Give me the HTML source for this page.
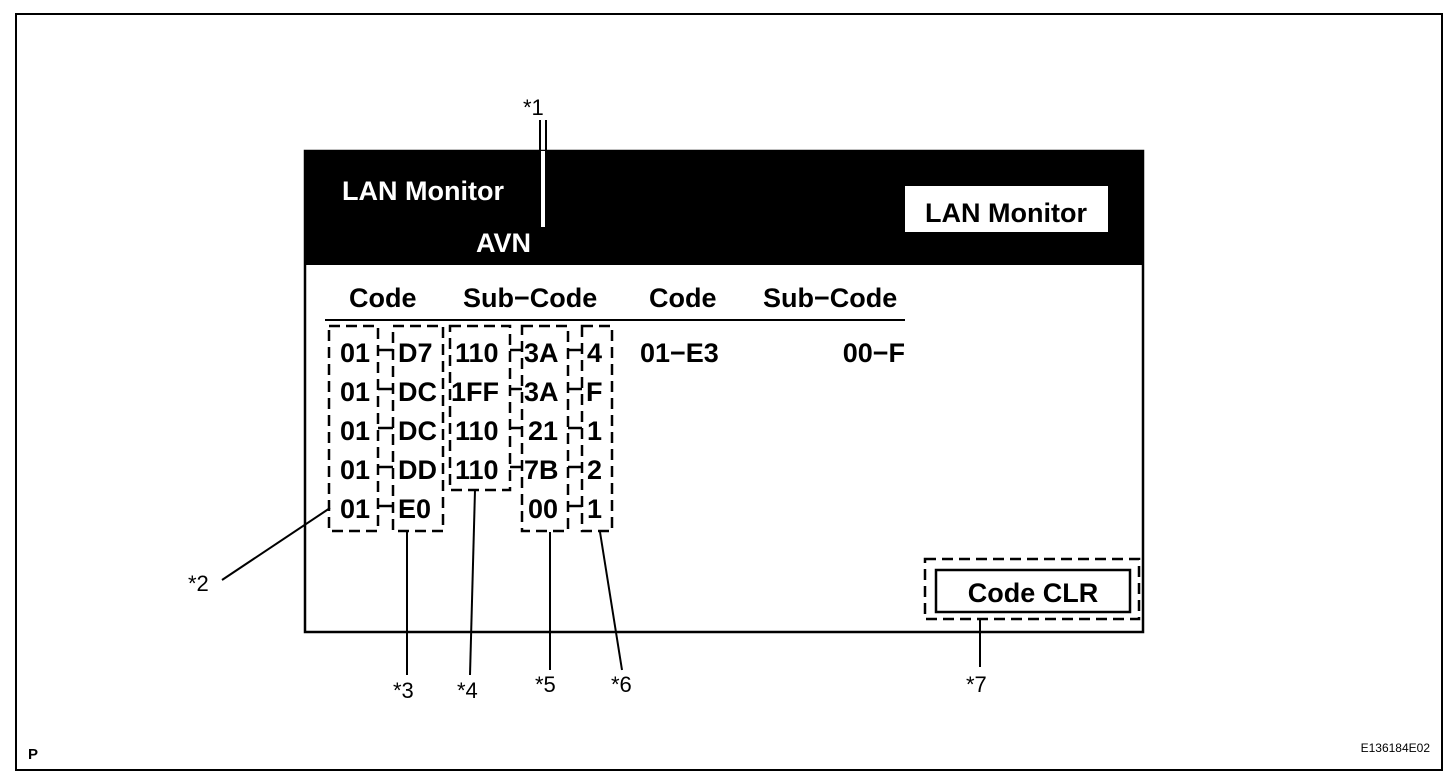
<!DOCTYPE html>
<html><head><meta charset="utf-8"><style>
html,body{margin:0;padding:0;background:#fff;}
svg{display:block;}
text{font-family:"Liberation Sans",Arial,sans-serif;}
.b{font-weight:bold;font-size:27px;}
.l{font-size:22px;}
</style></head><body>
<svg width="1456" height="780" viewBox="0 0 1456 780" xmlns="http://www.w3.org/2000/svg">
<rect x="16" y="14" width="1426" height="756" fill="none" stroke="#000" stroke-width="2"/>
<!-- screen -->
<rect x="305" y="151" width="838" height="481" fill="#fff" stroke="#000" stroke-width="2.5"/>
<rect x="305" y="151" width="838" height="114" fill="#000"/>
<text x="342" y="200" class="b" fill="#fff" font-size="26">LAN Monitor</text>
<text x="476" y="252" class="b" fill="#fff" font-size="26">AVN</text>
<rect x="905" y="186" width="203" height="46" fill="#fff"/>
<text x="1006" y="222" class="b" text-anchor="middle" fill="#000">LAN Monitor</text>
<!-- *1 -->
<text x="523" y="115" class="l">*1</text>
<line x1="540" y1="120" x2="540" y2="227" stroke="#000" stroke-width="2"/>
<line x1="546" y1="120" x2="546" y2="227" stroke="#000" stroke-width="2"/>
<line x1="542" y1="130" x2="544" y2="130" stroke="#fff" stroke-width="0"/>
<rect x="541" y="151" width="4" height="76" fill="#fff"/>
<!-- headers -->
<g class="b">
<text x="349" y="307">Code</text>
<text x="463" y="307">Sub−Code</text>
<text x="649" y="307">Code</text>
<text x="763" y="307">Sub−Code</text>
</g>
<line x1="325" y1="320" x2="905" y2="320" stroke="#000" stroke-width="2"/>
<!-- data -->
<g class="b">
<text x="340" y="362">01</text><text x="398" y="362">D7</text><text x="455" y="362">110</text><text x="524" y="362">3A</text><text x="587" y="362">4</text>
<text x="340" y="401">01</text><text x="398" y="401">DC</text><text x="451" y="401">1FF</text><text x="524" y="401">3A</text><text x="586" y="401">F</text>
<text x="340" y="440">01</text><text x="398" y="440">DC</text><text x="455" y="440">110</text><text x="528" y="440">21</text><text x="587" y="440">1</text>
<text x="340" y="479">01</text><text x="398" y="479">DD</text><text x="455" y="479">110</text><text x="524" y="479">7B</text><text x="587" y="479">2</text>
<text x="340" y="518">01</text><text x="398" y="518">E0</text><text x="528" y="518">00</text><text x="587" y="518">1</text>
<text x="640" y="362">01−E3</text>
<text x="905" y="362" text-anchor="end">00−F</text>
</g>
<g stroke="#000" stroke-width="2.5">
<line x1="378" y1="350" x2="393" y2="350"/><line x1="378" y1="389" x2="393" y2="389"/><line x1="378" y1="428" x2="393" y2="428"/><line x1="378" y1="467" x2="393" y2="467"/><line x1="378" y1="506" x2="393" y2="506"/>
<line x1="510" y1="350" x2="522" y2="350"/><line x1="510" y1="389" x2="522" y2="389"/><line x1="510" y1="428" x2="522" y2="428"/><line x1="510" y1="467" x2="522" y2="467"/>
<line x1="568" y1="350" x2="582" y2="350"/><line x1="568" y1="389" x2="582" y2="389"/><line x1="568" y1="428" x2="582" y2="428"/><line x1="568" y1="467" x2="582" y2="467"/><line x1="568" y1="506" x2="582" y2="506"/>
</g>
<g fill="none" stroke="#000" stroke-width="2.5" stroke-dasharray="11,6">
<rect x="329" y="326" width="49" height="205"/>
<rect x="393" y="326" width="50" height="205"/>
<rect x="450" y="326" width="60" height="164"/>
<rect x="522" y="326" width="46" height="205"/>
<rect x="582" y="326" width="30" height="205"/>
<rect x="925" y="559" width="214" height="60"/>
</g>
<rect x="936" y="570" width="194" height="42" fill="none" stroke="#000" stroke-width="2.5"/>
<text x="1033" y="602" class="b" text-anchor="middle">Code CLR</text>
<!-- leaders -->
<g stroke="#000" stroke-width="2">
<line x1="222" y1="580" x2="330" y2="508"/>
<line x1="407" y1="532" x2="407" y2="675"/>
<line x1="475" y1="490" x2="470" y2="675"/>
<line x1="550" y1="532" x2="550" y2="670"/>
<line x1="600" y1="532" x2="622" y2="670"/>
<line x1="980" y1="620" x2="980" y2="667"/>
</g>
<g class="l">
<text x="188" y="591">*2</text>
<text x="393" y="698">*3</text>
<text x="457" y="698">*4</text>
<text x="535" y="692">*5</text>
<text x="611" y="692">*6</text>
<text x="966" y="692">*7</text>
</g>
<text x="28" y="759" font-weight="bold" font-size="15">P</text>
<text x="1430" y="752" font-size="12" text-anchor="end">E136184E02</text>
</svg>
</body></html>
